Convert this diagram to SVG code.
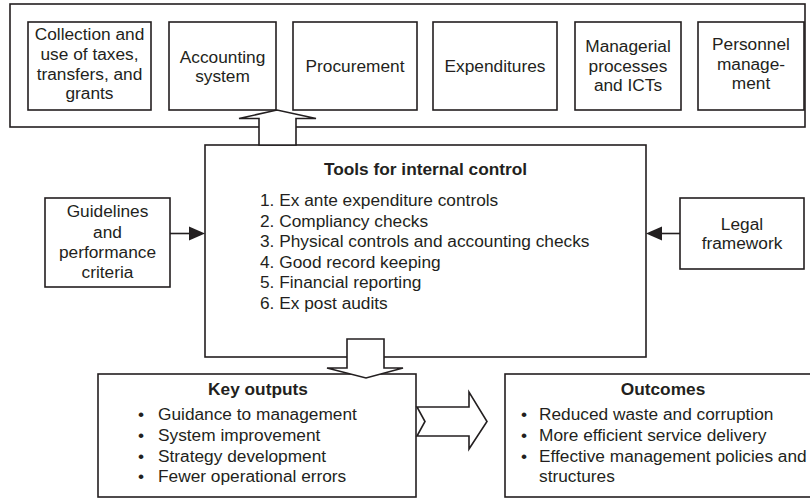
<svg xmlns="http://www.w3.org/2000/svg" width="810" height="499" viewBox="0 0 810 499">
<style>
.b{fill:#fff;stroke:#231f20;stroke-width:1.6}
.t{font-family:"Liberation Sans",Arial,sans-serif;font-size:17.3px;fill:#231f20}
.c{text-anchor:middle}
.h{font-weight:bold}
.ln{stroke:#231f20;stroke-width:1.6;fill:none}
.ah{fill:#231f20}
</style>
<rect width="810" height="499" fill="#fff"/>
<g id="areas">
<rect class="b" x="10" y="4" width="795" height="123"/>
</g>
<g id="n-collection">
<rect class="b" x="28" y="22" width="123" height="88"/>
<text class="t c" x="89.5" y="40">Collection and</text>
<text class="t c" x="89.5" y="60">use of taxes,</text>
<text class="t c" x="89.5" y="79.5">transfers, and</text>
<text class="t c" x="89.5" y="99">grants</text>
</g>
<g id="n-accounting">
<rect class="b" x="169" y="22" width="107" height="88"/>
<text class="t c" x="222.5" y="63">Accounting</text>
<text class="t c" x="222.5" y="82">system</text>
</g>
<g id="n-procurement">
<rect class="b" x="293" y="22" width="124" height="88"/>
<text class="t c" x="355" y="72">Procurement</text>
</g>
<g id="n-expenditures">
<rect class="b" x="433" y="22" width="124" height="88"/>
<text class="t c" x="495" y="72">Expenditures</text>
</g>
<g id="n-managerial">
<rect class="b" x="575" y="22" width="106" height="88"/>
<text class="t c" x="628" y="52">Managerial</text>
<text class="t c" x="628" y="71.5">processes</text>
<text class="t c" x="628" y="91">and ICTs</text>
</g>
<g id="n-personnel">
<rect class="b" x="698" y="22" width="106" height="88"/>
<text class="t c" x="751" y="50">Personnel</text>
<text class="t c" x="751" y="69.5">manage-</text>
<text class="t c" x="751" y="89">ment</text>
</g>
<g id="n-tools">
<rect class="b" x="205" y="145" width="441" height="212"/>
<text class="t c h" x="425.5" y="175">Tools for internal control</text>
<text class="t" x="260" y="206">1. Ex ante expenditure controls</text>
<text class="t" x="260" y="226.5">2. Compliancy checks</text>
<text class="t" x="260" y="247">3. Physical controls and accounting checks</text>
<text class="t" x="260" y="267.5">4. Good record keeping</text>
<text class="t" x="260" y="288">5. Financial reporting</text>
<text class="t" x="260" y="308.5">6. Ex post audits</text>
</g>
<g id="n-guidelines">
<rect class="b" x="45" y="198" width="125" height="89"/>
<text class="t c" x="107.5" y="217">Guidelines</text>
<text class="t c" x="107.5" y="237.5">and</text>
<text class="t c" x="107.5" y="258">performance</text>
<text class="t c" x="107.5" y="278">criteria</text>
</g>
<g id="n-legal">
<rect class="b" x="680" y="198" width="124" height="71"/>
<text class="t c" x="742" y="230">Legal</text>
<text class="t c" x="742" y="249">framework</text>
</g>
<g id="n-outputs">
<rect class="b" x="98" y="374" width="318" height="123"/>
<text class="t c h" x="258" y="395">Key outputs</text>
<text class="t c" x="141" y="420">•</text>
<text class="t" x="158" y="420">Guidance to management</text>
<text class="t c" x="141" y="440.7">•</text>
<text class="t" x="158" y="440.7">System improvement</text>
<text class="t c" x="141" y="461.5">•</text>
<text class="t" x="158" y="461.5">Strategy development</text>
<text class="t c" x="141" y="482.3">•</text>
<text class="t" x="158" y="482.3">Fewer operational errors</text>
</g>
<g id="n-outcomes">
<rect class="b" x="505" y="374" width="310" height="123"/>
<text class="t c h" x="663" y="395">Outcomes</text>
<text class="t c" x="524" y="420">•</text>
<text class="t" x="539" y="420">Reduced waste and corruption</text>
<text class="t c" x="524" y="440.7">•</text>
<text class="t" x="539" y="440.7">More efficient service delivery</text>
<text class="t c" x="524" y="461.5">•</text>
<text class="t" x="539" y="461.5">Effective management policies and</text>
<text class="t" x="539" y="482.3">structures</text>
</g>
<g id="connectors">
<polygon class="b" points="259,145 259,118.5 239,118.5 277,110 316,118.5 296,118.5 296,145"/>
<line class="ln" x1="170" y1="233.5" x2="190" y2="233.5"/>
<polygon class="ah" points="189,226.5 205,233.5 189,240.5"/>
<line class="ln" x1="680" y1="233.5" x2="661" y2="233.5"/>
<polygon class="ah" points="662,226.5 646,233.5 662,240.5"/>
<polygon class="b" points="347,339 384,339 384,368 403,368 366,378 327,368 347,368"/>
<polygon class="b" points="417,407 469,407 469,392 487,421.5 469,449 469,436 417,436 425,421.5"/>
</g>
</svg>
